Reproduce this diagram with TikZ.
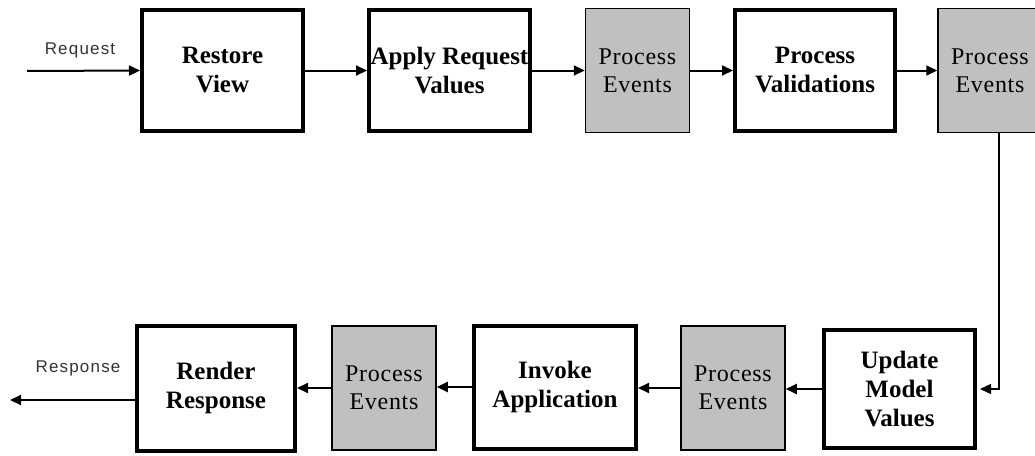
\documentclass[tikz,border=0pt]{standalone}
\usepackage{fontspec}
\setmainfont{Liberation Serif}
\newfontfamily\eventfont[LetterSpace=3]{Liberation Serif}
\newfontfamily\labelfont[LetterSpace=7]{Liberation Sans}
\usetikzlibrary{arrows.meta}
\definecolor{evgray}{RGB}{192,192,192}

\begin{document}
\begin{tikzpicture}[x=1pt,y=-1pt,
  phase/.style={draw, line width=4pt, fill=white, inner sep=0pt, align=center,
    font=\fontsize{25}{29}\selectfont\bfseries},
  events/.style={draw, line width=1.5pt, fill=evgray, inner sep=0pt, align=center,
    minimum width=104pt, minimum height=124pt,
    font=\fontsize{24}{28}\selectfont\eventfont},
  arr/.style={line width=2pt, -{Triangle[length=11pt,width=10pt]}},
  tag/.style={font=\fontsize{17}{19}\selectfont\labelfont, text=black!80}]
\clip (0,0) rectangle (1035,455);
\fill[white] (0,0) rectangle (1035,455);

% top row, left to right
\node[phase, minimum width=161pt, minimum height=121pt] (rv)  at (222.5,70.5) {Restore\\View};
\node[phase, minimum width=161pt, minimum height=121pt] (arv) at (449.5,70.5) {Apply Request\\Values};
\node[events] (pe1) at (637.5,70.5) {Process\\Events};
\node[phase, minimum width=160pt, minimum height=121pt] (pv)  at (815,70.5) {Process\\Validations};
\node[events] (pe2) at (990,70.5) {Process\\Events};

% bottom row, right to left
\node[phase, minimum width=151pt, minimum height=118pt] (umv) at (899.5,389) {Update\\Model\\Values};
\node[events] (pe3) at (733,388) {Process\\Events};
\node[phase, minimum width=162pt, minimum height=123pt] (ia)  at (555,387) {Invoke\\Application};
\node[events] (pe4) at (384,388) {Process\\Events};
\node[phase, minimum width=158pt, minimum height=125pt] (rr)  at (216,388) {Render\\Response};

% free ends of the request and response lines
\coordinate (in)  at (27,71);
\coordinate (out) at (10,400);

\node[tag] (req)  at (80,50)  {Request};
\node[tag] (resp) at (78,368) {Response};

% connectors
\draw[arr] (in) -- (rv.west);
\draw[arr] (rv.east) -- (arv.west);
\draw[arr] (arv.east) -- (pe1.west);
\draw[arr] (pe1.east) -- (pv.west);
\draw[arr] (pv.east) -- (pe2.west);
\draw[arr, line width=1.5pt, shorten >=3pt] ([xshift=9pt]pe2.south) |- (umv.east);
\draw[arr] (umv.west) -- (umv.west -| pe3.east);
\draw[arr] (pe3.west) -- (pe3.west -| ia.east);
\draw[arr] (ia.west) -- (ia.west -| pe4.east);
\draw[arr] (pe4.west) -- (pe4.west -| rr.east);
\draw[arr] ([yshift=-12pt]rr.west) -- (out);
\end{tikzpicture}
\end{document}
